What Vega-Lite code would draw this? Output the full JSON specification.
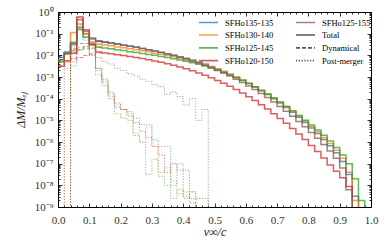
{
"$schema": "https://vega.github.io/schema/vega-lite/v6.json",
"width": 313, "height": 195,
"autosize": {"type": "none"},
"padding": {"left": 58, "top": 12, "right": 19, "bottom": 37},
"datasets": {
"h": [
{"m":"SFHo135-135","v":0,"T":7.94e-3,"D":7.94e-3},
{"m":"SFHo135-135","v":0.02,"T":1.41e-2,"D":1.26e-2,"P":1e-12},
{"m":"SFHo135-135","v":0.04,"T":3.55e-2,"D":2.0e-2,"P":3.16e-3},
{"m":"SFHo135-135","v":0.06,"T":0.2,"D":3.55e-2,"P":0.158},
{"m":"SFHo135-135","v":0.08,"T":0.1,"D":3.55e-2,"P":6.31e-2},
{"m":"SFHo135-135","v":0.1,"T":5.62e-2,"D":3.8e-2,"P":1.26e-2},
{"m":"SFHo135-135","v":0.12,"T":4.47e-2,"D":4.27e-2,"P":2.51e-3},
{"m":"SFHo135-135","v":0.14,"T":4.07e-2,"D":4.07e-2,"P":6.31e-4},
{"m":"SFHo135-135","v":0.16,"T":3.63e-2,"P":1.58e-4},
{"m":"SFHo135-135","v":0.18,"T":3.24e-2,"P":3.98e-5},
{"m":"SFHo135-135","v":0.2,"T":2.95e-2,"P":3.16e-5},
{"m":"SFHo135-135","v":0.22,"T":2.63e-2,"P":2.51e-5},
{"m":"SFHo135-135","v":0.24,"T":2.34e-2,"P":1.26e-5},
{"m":"SFHo135-135","v":0.26,"T":2.09e-2,"P":6.31e-6},
{"m":"SFHo135-135","v":0.28,"T":1.82e-2,"P":6.31e-6},
{"m":"SFHo135-135","v":0.3,"T":1.58e-2,"P":1.26e-6},
{"m":"SFHo135-135","v":0.32,"T":1.38e-2,"P":6.31e-7},
{"m":"SFHo135-135","v":0.34,"T":1.17e-2,"P":6.31e-7},
{"m":"SFHo135-135","v":0.36,"T":1.0e-2,"P":1e-8},
{"m":"SFHo135-135","v":0.38,"T":8.51e-3,"P":1e-7},
{"m":"SFHo135-135","v":0.4,"T":7.24e-3,"P":3.16e-9},
{"m":"SFHo135-135","v":0.42,"T":6.03e-3,"P":1.58e-9},
{"m":"SFHo135-135","v":0.44,"T":4.9e-3,"P":1e-12},
{"m":"SFHo135-135","v":0.46,"T":3.98e-3},
{"m":"SFHo135-135","v":0.48,"T":3.09e-3},
{"m":"SFHo135-135","v":0.5,"T":2.34e-3},
{"m":"SFHo135-135","v":0.52,"T":1.78e-3},
{"m":"SFHo135-135","v":0.54,"T":1.32e-3},
{"m":"SFHo135-135","v":0.56,"T":9.77e-4},
{"m":"SFHo135-135","v":0.58,"T":7.08e-4},
{"m":"SFHo135-135","v":0.6,"T":5.01e-4},
{"m":"SFHo135-135","v":0.62,"T":3.47e-4},
{"m":"SFHo135-135","v":0.64,"T":2.34e-4},
{"m":"SFHo135-135","v":0.66,"T":1.55e-4},
{"m":"SFHo135-135","v":0.68,"T":1.0e-4},
{"m":"SFHo135-135","v":0.7,"T":6.31e-5},
{"m":"SFHo135-135","v":0.72,"T":3.89e-5},
{"m":"SFHo135-135","v":0.74,"T":2.34e-5},
{"m":"SFHo135-135","v":0.76,"T":1.38e-5},
{"m":"SFHo135-135","v":0.78,"T":7.94e-6},
{"m":"SFHo135-135","v":0.8,"T":4.47e-6},
{"m":"SFHo135-135","v":0.82,"T":2.45e-6},
{"m":"SFHo135-135","v":0.84,"T":1.32e-6},
{"m":"SFHo135-135","v":0.86,"T":6.76e-7},
{"m":"SFHo135-135","v":0.88,"T":3.16e-7},
{"m":"SFHo135-135","v":0.9,"T":1.26e-7},
{"m":"SFHo135-135","v":0.92,"T":3.16e-8},
{"m":"SFHo135-135","v":0.94,"T":3.16e-9},
{"m":"SFHo135-135","v":0.96,"T":1e-12},

{"m":"SFHo130-140","v":0,"T":6.31e-3,"D":6.31e-3,"P":1e-12},
{"m":"SFHo130-140","v":0.02,"T":1.26e-2,"D":1.12e-2,"P":1e-4},
{"m":"SFHo130-140","v":0.04,"T":0.112,"D":1.78e-2,"P":8.91e-2},
{"m":"SFHo130-140","v":0.06,"T":0.282,"D":2.24e-2,"P":0.251},
{"m":"SFHo130-140","v":0.08,"T":0.1,"D":2.51e-2,"P":7.08e-2},
{"m":"SFHo130-140","v":0.1,"T":4.17e-2,"D":2.82e-2,"P":1.0e-2},
{"m":"SFHo130-140","v":0.12,"T":3.31e-2,"D":3.09e-2,"P":2.0e-3},
{"m":"SFHo130-140","v":0.14,"T":3.02e-2,"D":3.02e-2,"P":5.01e-4},
{"m":"SFHo130-140","v":0.16,"T":2.75e-2,"P":1.26e-4},
{"m":"SFHo130-140","v":0.18,"T":2.45e-2,"P":5.01e-5},
{"m":"SFHo130-140","v":0.2,"T":2.24e-2,"P":3.16e-5},
{"m":"SFHo130-140","v":0.22,"T":2.0e-2,"P":2.0e-5},
{"m":"SFHo130-140","v":0.24,"T":1.82e-2,"P":2.51e-6},
{"m":"SFHo130-140","v":0.26,"T":1.62e-2,"P":1e-6},
{"m":"SFHo130-140","v":0.28,"T":1.45e-2,"P":5.01e-6},
{"m":"SFHo130-140","v":0.3,"T":1.26e-2,"P":6.31e-7},
{"m":"SFHo130-140","v":0.32,"T":1.12e-2,"P":3.98e-8},
{"m":"SFHo130-140","v":0.34,"T":9.77e-3,"P":6.31e-8},
{"m":"SFHo130-140","v":0.36,"T":8.51e-3,"P":1.58e-8},
{"m":"SFHo130-140","v":0.38,"T":7.24e-3,"P":3.98e-9},
{"m":"SFHo130-140","v":0.4,"T":6.17e-3,"P":5.01e-9},
{"m":"SFHo130-140","v":0.42,"T":5.25e-3,"P":5.01e-9},
{"m":"SFHo130-140","v":0.44,"T":4.37e-3,"P":1e-12},
{"m":"SFHo130-140","v":0.46,"T":3.55e-3},
{"m":"SFHo130-140","v":0.48,"T":2.88e-3},
{"m":"SFHo130-140","v":0.5,"T":2.29e-3},
{"m":"SFHo130-140","v":0.52,"T":1.78e-3},
{"m":"SFHo130-140","v":0.54,"T":1.35e-3},
{"m":"SFHo130-140","v":0.56,"T":1.0e-3},
{"m":"SFHo130-140","v":0.58,"T":7.24e-4},
{"m":"SFHo130-140","v":0.6,"T":5.13e-4},
{"m":"SFHo130-140","v":0.62,"T":3.55e-4},
{"m":"SFHo130-140","v":0.64,"T":2.4e-4},
{"m":"SFHo130-140","v":0.66,"T":1.58e-4},
{"m":"SFHo130-140","v":0.68,"T":1.02e-4},
{"m":"SFHo130-140","v":0.7,"T":6.61e-5},
{"m":"SFHo130-140","v":0.72,"T":4.17e-5},
{"m":"SFHo130-140","v":0.74,"T":2.57e-5},
{"m":"SFHo130-140","v":0.76,"T":1.55e-5},
{"m":"SFHo130-140","v":0.78,"T":9.12e-6},
{"m":"SFHo130-140","v":0.8,"T":5.25e-6},
{"m":"SFHo130-140","v":0.82,"T":2.95e-6},
{"m":"SFHo130-140","v":0.84,"T":1.62e-6},
{"m":"SFHo130-140","v":0.86,"T":8.51e-7},
{"m":"SFHo130-140","v":0.88,"T":4.17e-7},
{"m":"SFHo130-140","v":0.9,"T":1.78e-7},
{"m":"SFHo130-140","v":0.92,"T":3.98e-8},
{"m":"SFHo130-140","v":0.94,"T":2.0e-9},
{"m":"SFHo130-140","v":0.96,"T":1e-12},

{"m":"SFHo125-145","v":0,"T":5.01e-3,"D":5.01e-3},
{"m":"SFHo125-145","v":0.02,"T":1.26e-2,"D":1.12e-2,"P":1e-12},
{"m":"SFHo125-145","v":0.04,"T":3.98e-2,"D":1.58e-2,"P":2.51e-2},
{"m":"SFHo125-145","v":0.06,"T":0.158,"D":1.78e-2,"P":0.141},
{"m":"SFHo125-145","v":0.08,"T":7.08e-2,"D":2.0e-2,"P":5.01e-2},
{"m":"SFHo125-145","v":0.1,"T":3.16e-2,"D":2.19e-2,"P":1.0e-2},
{"m":"SFHo125-145","v":0.12,"T":2.4e-2,"D":2.29e-2,"P":1.26e-3},
{"m":"SFHo125-145","v":0.14,"T":2.19e-2,"D":2.19e-2,"P":3.98e-4},
{"m":"SFHo125-145","v":0.16,"T":2.0e-2,"P":1.0e-4},
{"m":"SFHo125-145","v":0.18,"T":1.82e-2,"P":2.0e-5},
{"m":"SFHo125-145","v":0.2,"T":1.66e-2,"P":1.26e-5},
{"m":"SFHo125-145","v":0.22,"T":1.48e-2,"P":1.0e-5},
{"m":"SFHo125-145","v":0.24,"T":1.35e-2,"P":2.0e-6},
{"m":"SFHo125-145","v":0.26,"T":1.23e-2,"P":1e-6},
{"m":"SFHo125-145","v":0.28,"T":1.1e-2,"P":3.16e-8},
{"m":"SFHo125-145","v":0.3,"T":1.0e-2,"P":1.58e-7},
{"m":"SFHo125-145","v":0.32,"T":8.91e-3,"P":2.51e-8},
{"m":"SFHo125-145","v":0.34,"T":7.94e-3,"P":1e-8},
{"m":"SFHo125-145","v":0.36,"T":6.92e-3,"P":2.51e-9},
{"m":"SFHo125-145","v":0.38,"T":6.17e-3,"P":6.31e-9},
{"m":"SFHo125-145","v":0.4,"T":5.37e-3,"P":2.51e-9},
{"m":"SFHo125-145","v":0.42,"T":4.57e-3,"P":5.01e-9},
{"m":"SFHo125-145","v":0.44,"T":3.89e-3,"P":1e-12},
{"m":"SFHo125-145","v":0.46,"T":3.24e-3},
{"m":"SFHo125-145","v":0.48,"T":2.63e-3},
{"m":"SFHo125-145","v":0.5,"T":2.0e-3},
{"m":"SFHo125-145","v":0.52,"T":1.58e-3},
{"m":"SFHo125-145","v":0.54,"T":1.23e-3},
{"m":"SFHo125-145","v":0.56,"T":9.33e-4},
{"m":"SFHo125-145","v":0.58,"T":6.92e-4},
{"m":"SFHo125-145","v":0.6,"T":5.01e-4},
{"m":"SFHo125-145","v":0.62,"T":3.55e-4},
{"m":"SFHo125-145","v":0.64,"T":2.45e-4},
{"m":"SFHo125-145","v":0.66,"T":1.66e-4},
{"m":"SFHo125-145","v":0.68,"T":1.1e-4},
{"m":"SFHo125-145","v":0.7,"T":7.08e-5},
{"m":"SFHo125-145","v":0.72,"T":4.47e-5},
{"m":"SFHo125-145","v":0.74,"T":2.75e-5},
{"m":"SFHo125-145","v":0.76,"T":1.66e-5},
{"m":"SFHo125-145","v":0.78,"T":1.0e-5},
{"m":"SFHo125-145","v":0.8,"T":6.03e-6},
{"m":"SFHo125-145","v":0.82,"T":3.55e-6},
{"m":"SFHo125-145","v":0.84,"T":2.04e-6},
{"m":"SFHo125-145","v":0.86,"T":1.12e-6},
{"m":"SFHo125-145","v":0.88,"T":5.62e-7},
{"m":"SFHo125-145","v":0.9,"T":2.51e-7},
{"m":"SFHo125-145","v":0.92,"T":1.0e-7},
{"m":"SFHo125-145","v":0.94,"T":2.0e-8},
{"m":"SFHo125-145","v":0.96,"T":2.0e-9},
{"m":"SFHo125-145","v":0.98,"T":1e-12},

{"m":"SFHo120-150","v":0,"T":3.16e-3,"D":3.16e-3},
{"m":"SFHo120-150","v":0.02,"T":5.62e-3,"D":5.01e-3,"P":1e-12},
{"m":"SFHo120-150","v":0.04,"T":1.26e-2,"D":7.08e-3,"P":5.01e-3},
{"m":"SFHo120-150","v":0.06,"T":0.589,"D":7.94e-3,"P":0.575},
{"m":"SFHo120-150","v":0.08,"T":0.151,"D":1.0e-2,"P":0.141},
{"m":"SFHo120-150","v":0.1,"T":3.16e-2,"D":1.12e-2,"P":2.0e-2},
{"m":"SFHo120-150","v":0.12,"T":1.41e-2,"D":1.29e-2,"P":2.51e-3},
{"m":"SFHo120-150","v":0.14,"T":1.29e-2,"D":1.29e-2,"P":7.94e-4},
{"m":"SFHo120-150","v":0.16,"T":1.17e-2,"P":2.0e-4},
{"m":"SFHo120-150","v":0.18,"T":1.07e-2,"P":6.31e-5},
{"m":"SFHo120-150","v":0.2,"T":9.77e-3,"P":3.16e-5},
{"m":"SFHo120-150","v":0.22,"T":8.91e-3,"P":1.58e-5},
{"m":"SFHo120-150","v":0.24,"T":7.94e-3,"P":7.94e-6},
{"m":"SFHo120-150","v":0.26,"T":7.08e-3,"P":3.16e-6},
{"m":"SFHo120-150","v":0.28,"T":6.31e-3,"P":1.58e-6},
{"m":"SFHo120-150","v":0.3,"T":5.5e-3,"P":6.31e-7},
{"m":"SFHo120-150","v":0.32,"T":4.79e-3,"P":2.51e-7},
{"m":"SFHo120-150","v":0.34,"T":4.07e-3,"P":3.98e-8},
{"m":"SFHo120-150","v":0.36,"T":3.47e-3,"P":1e-7},
{"m":"SFHo120-150","v":0.38,"T":2.88e-3,"P":5.01e-8},
{"m":"SFHo120-150","v":0.4,"T":2.4e-3,"P":5.01e-8},
{"m":"SFHo120-150","v":0.42,"T":1.95e-3,"P":2.51e-9},
{"m":"SFHo120-150","v":0.44,"T":1.55e-3,"P":2.51e-9},
{"m":"SFHo120-150","v":0.46,"T":1.2e-3,"P":2.51e-9},
{"m":"SFHo120-150","v":0.48,"T":9.12e-4,"P":1e-12},
{"m":"SFHo120-150","v":0.5,"T":6.92e-4},
{"m":"SFHo120-150","v":0.52,"T":5.13e-4},
{"m":"SFHo120-150","v":0.54,"T":3.72e-4},
{"m":"SFHo120-150","v":0.56,"T":2.63e-4},
{"m":"SFHo120-150","v":0.58,"T":1.82e-4},
{"m":"SFHo120-150","v":0.6,"T":1.23e-4},
{"m":"SFHo120-150","v":0.62,"T":8.13e-5},
{"m":"SFHo120-150","v":0.64,"T":5.25e-5},
{"m":"SFHo120-150","v":0.66,"T":3.31e-5},
{"m":"SFHo120-150","v":0.68,"T":2.04e-5},
{"m":"SFHo120-150","v":0.7,"T":1.23e-5},
{"m":"SFHo120-150","v":0.72,"T":7.24e-6},
{"m":"SFHo120-150","v":0.74,"T":4.17e-6},
{"m":"SFHo120-150","v":0.76,"T":2.34e-6},
{"m":"SFHo120-150","v":0.78,"T":1.29e-6},
{"m":"SFHo120-150","v":0.8,"T":6.92e-7},
{"m":"SFHo120-150","v":0.82,"T":3.63e-7},
{"m":"SFHo120-150","v":0.84,"T":1.82e-7},
{"m":"SFHo120-150","v":0.86,"T":8.71e-8},
{"m":"SFHo120-150","v":0.88,"T":4.47e-8},
{"m":"SFHo120-150","v":0.9,"T":2.24e-8},
{"m":"SFHo120-150","v":0.92,"T":8.91e-9},
{"m":"SFHo120-150","v":0.94,"T":1e-12},

{"m":"SFHo125-155","v":0,"T":6.31e-3,"D":6.31e-3,"P":1e-12},
{"m":"SFHo125-155","v":0.02,"T":1.26e-2,"D":1.12e-2,"P":2.51e-3},
{"m":"SFHo125-155","v":0.04,"T":3.16e-2,"D":1.41e-2,"P":1.78e-2},
{"m":"SFHo125-155","v":0.06,"T":0.447,"D":1.78e-2,"P":0.417},
{"m":"SFHo125-155","v":0.08,"T":0.126,"D":2.51e-2,"P":0.1},
{"m":"SFHo125-155","v":0.1,"T":6.31e-2,"D":3.55e-2,"P":2.82e-2},
{"m":"SFHo125-155","v":0.12,"T":4.68e-2,"D":4.27e-2,"P":7.94e-3},
{"m":"SFHo125-155","v":0.14,"T":4.27e-2,"D":4.07e-2,"P":5.01e-3},
{"m":"SFHo125-155","v":0.16,"T":3.8e-2,"D":3.8e-2,"P":3.98e-3},
{"m":"SFHo125-155","v":0.18,"T":3.39e-2,"P":2.51e-3},
{"m":"SFHo125-155","v":0.2,"T":3.02e-2,"P":2.0e-3},
{"m":"SFHo125-155","v":0.22,"T":2.69e-2,"P":1.41e-3},
{"m":"SFHo125-155","v":0.24,"T":2.4e-2,"P":1.12e-3},
{"m":"SFHo125-155","v":0.26,"T":2.09e-2,"P":7.94e-4},
{"m":"SFHo125-155","v":0.28,"T":1.82e-2,"P":6.31e-4},
{"m":"SFHo125-155","v":0.3,"T":1.58e-2,"P":4.47e-4},
{"m":"SFHo125-155","v":0.32,"T":1.35e-2,"P":3.55e-4},
{"m":"SFHo125-155","v":0.34,"T":1.15e-2,"P":1.58e-4},
{"m":"SFHo125-155","v":0.36,"T":9.77e-3,"P":2.0e-4},
{"m":"SFHo125-155","v":0.38,"T":8.13e-3,"P":1.26e-4},
{"m":"SFHo125-155","v":0.4,"T":6.76e-3,"P":5.01e-5},
{"m":"SFHo125-155","v":0.42,"T":5.5e-3,"P":1.0e-4},
{"m":"SFHo125-155","v":0.44,"T":4.37e-3,"P":1.0e-5},
{"m":"SFHo125-155","v":0.46,"T":3.47e-3,"P":3.16e-5},
{"m":"SFHo125-155","v":0.48,"T":2.69e-3,"P":1e-12},
{"m":"SFHo125-155","v":0.5,"T":2.04e-3},
{"m":"SFHo125-155","v":0.52,"T":1.51e-3},
{"m":"SFHo125-155","v":0.54,"T":1.1e-3},
{"m":"SFHo125-155","v":0.56,"T":7.94e-4},
{"m":"SFHo125-155","v":0.58,"T":5.62e-4},
{"m":"SFHo125-155","v":0.6,"T":3.89e-4},
{"m":"SFHo125-155","v":0.62,"T":2.63e-4},
{"m":"SFHo125-155","v":0.64,"T":1.74e-4},
{"m":"SFHo125-155","v":0.66,"T":1.12e-4},
{"m":"SFHo125-155","v":0.68,"T":7.08e-5},
{"m":"SFHo125-155","v":0.7,"T":4.37e-5},
{"m":"SFHo125-155","v":0.72,"T":2.63e-5},
{"m":"SFHo125-155","v":0.74,"T":1.55e-5},
{"m":"SFHo125-155","v":0.76,"T":8.91e-6},
{"m":"SFHo125-155","v":0.78,"T":5.01e-6},
{"m":"SFHo125-155","v":0.8,"T":2.75e-6},
{"m":"SFHo125-155","v":0.82,"T":1.48e-6},
{"m":"SFHo125-155","v":0.84,"T":7.76e-7},
{"m":"SFHo125-155","v":0.86,"T":3.89e-7},
{"m":"SFHo125-155","v":0.88,"T":1.78e-7},
{"m":"SFHo125-155","v":0.9,"T":6.31e-8},
{"m":"SFHo125-155","v":0.92,"T":6.31e-9},
{"m":"SFHo125-155","v":0.94,"T":1e-12}
],
"keys": [
{"key":"SFHo135-135"},{"key":"SFHo130-140"},{"key":"SFHo125-145"},{"key":"SFHo120-150"},
{"key":"SFHo125-155"},{"key":"Total"},{"key":"Dynamical"},{"key":"Post-merger"}
]
},
"layer": [
{
"data": {"name": "h"},
"mark": {"type": "line", "interpolate": "step-after", "clip": true, "strokeWidth": 1, "strokeDash": [1.2, 1.6], "opacity": 0.6},
"encoding": {
"x": {"field": "v", "type": "quantitative", "scale": {"domain": [0, 1], "nice": false, "zero": false}, "axis": null},
"y": {"field": "P", "type": "quantitative", "scale": {"type": "log", "domain": [1e-9, 1], "nice": false}, "axis": null},
"stroke": {"field": "m", "type": "nominal", "legend": null,
"scale": {"domain": ["SFHo135-135","SFHo130-140","SFHo125-145","SFHo120-150","SFHo125-155"], "range": ["#1f77b4","#ff7f0e","#2ca02c","#d62728","#8c564b"]}}
}
},
{
"data": {"name": "h"},
"mark": {"type": "line", "interpolate": "step-after", "clip": true, "strokeWidth": 1, "strokeDash": [4, 2], "opacity": 0.6},
"encoding": {
"x": {"field": "v", "type": "quantitative", "axis": {"orient": "top", "labels": false, "title": null,
"values": [0,0.02,0.04,0.06,0.08,0.1,0.12,0.14,0.16,0.18,0.2,0.22,0.24,0.26,0.28,0.3,0.32,0.34,0.36,0.38,0.4,0.42,0.44,0.46,0.48,0.5,0.52,0.54,0.56,0.58,0.6,0.62,0.64,0.66,0.68,0.7,0.72,0.74,0.76,0.78,0.8,0.82,0.84,0.86,0.88,0.9,0.92,0.94,0.96,0.98,1],
"tickSize": -4, "tickDash": {"condition": {"test": "abs(datum.value*10 - round(datum.value*10)) < 1e-6", "value": [4, 0]}, "value": [2, 20]}}},
"y": {"field": "D", "type": "quantitative", "axis": {"orient": "right", "labels": false, "title": null,
"values": [1,0.1,0.01,0.001,1e-4,1e-5,1e-6,1e-7,1e-8,1e-9,2e-9,3e-9,4e-9,5e-9,6e-9,7e-9,8e-9,9e-9,2e-8,3e-8,4e-8,5e-8,6e-8,7e-8,8e-8,9e-8,2e-7,3e-7,4e-7,5e-7,6e-7,7e-7,8e-7,9e-7,2e-6,3e-6,4e-6,5e-6,6e-6,7e-6,8e-6,9e-6,2e-5,3e-5,4e-5,5e-5,6e-5,7e-5,8e-5,9e-5,2e-4,3e-4,4e-4,5e-4,6e-4,7e-4,8e-4,9e-4,0.002,0.003,0.004,0.005,0.006,0.007,0.008,0.009,0.02,0.03,0.04,0.05,0.06,0.07,0.08,0.09,0.2,0.3,0.4,0.5,0.6,0.7,0.8,0.9],
"tickSize": -4, "tickDash": {"condition": {"test": "abs(log(datum.value)/LN10 - round(log(datum.value)/LN10)) < 1e-3", "value": [4, 0]}, "value": [2, 20]}}},
"stroke": {"field": "m", "type": "nominal", "legend": null,
"scale": {"domain": ["SFHo135-135","SFHo130-140","SFHo125-145","SFHo120-150","SFHo125-155"], "range": ["#1f77b4","#ff7f0e","#2ca02c","#d62728","#8c564b"]}}
}
},
{
"data": {"name": "h"},
"mark": {"type": "line", "interpolate": "step-after", "clip": true, "strokeWidth": 1.5, "opacity": 0.75},
"encoding": {
"x": {"field": "v", "type": "quantitative", "axis": {"orient": "bottom", "title": "v\u221e/c", "titleFontStyle": "italic", "titleFontSize": 12, "titleX": 156.5, "titleY": 19, "titleBaseline": "top",
"values": [0,0.02,0.04,0.06,0.08,0.1,0.12,0.14,0.16,0.18,0.2,0.22,0.24,0.26,0.28,0.3,0.32,0.34,0.36,0.38,0.4,0.42,0.44,0.46,0.48,0.5,0.52,0.54,0.56,0.58,0.6,0.62,0.64,0.66,0.68,0.7,0.72,0.74,0.76,0.78,0.8,0.82,0.84,0.86,0.88,0.9,0.92,0.94,0.96,0.98,1],
"labelExpr": "abs(datum.value*10 - round(datum.value*10)) < 1e-6 ? format(datum.value, '.1f') : ''",
"labelOverlap": false, "labelFlush": false, "labelPadding": 11,
"tickSize": -4, "tickDash": {"condition": {"test": "abs(datum.value*10 - round(datum.value*10)) < 1e-6", "value": [4, 0]}, "value": [2, 20]}}},
"y": {"field": "T", "type": "quantitative", "axis": {"orient": "left", "title": "\u0394M/M\u2091\u2c7c", "titleFontStyle": "italic", "titleFontSize": 12, "titleX": -31, "titleY": 97.5, "titleBaseline": "bottom", "titleAngle": -90,
"values": [1,0.1,0.01,0.001,1e-4,1e-5,1e-6,1e-7,1e-8,1e-9,2e-9,3e-9,4e-9,5e-9,6e-9,7e-9,8e-9,9e-9,2e-8,3e-8,4e-8,5e-8,6e-8,7e-8,8e-8,9e-8,2e-7,3e-7,4e-7,5e-7,6e-7,7e-7,8e-7,9e-7,2e-6,3e-6,4e-6,5e-6,6e-6,7e-6,8e-6,9e-6,2e-5,3e-5,4e-5,5e-5,6e-5,7e-5,8e-5,9e-5,2e-4,3e-4,4e-4,5e-4,6e-4,7e-4,8e-4,9e-4,0.002,0.003,0.004,0.005,0.006,0.007,0.008,0.009,0.02,0.03,0.04,0.05,0.06,0.07,0.08,0.09,0.2,0.3,0.4,0.5,0.6,0.7,0.8,0.9],
"labelExpr": "abs(log(datum.value)/LN10 - round(log(datum.value)/LN10)) < 1e-3 ? ['10\u2070','10\u207b\u00b9','10\u207b\u00b2','10\u207b\u00b3','10\u207b\u2074','10\u207b\u2075','10\u207b\u2076','10\u207b\u2077','10\u207b\u2078','10\u207b\u2079'][-round(log(datum.value)/LN10)] : ''",
"labelOverlap": false, "labelFlush": false, "labelPadding": 9,
"tickSize": -4, "tickDash": {"condition": {"test": "abs(log(datum.value)/LN10 - round(log(datum.value)/LN10)) < 1e-3", "value": [4, 0]}, "value": [2, 20]}}},
"stroke": {"field": "m", "type": "nominal", "legend": null,
"scale": {"domain": ["SFHo135-135","SFHo130-140","SFHo125-145","SFHo120-150","SFHo125-155"], "range": ["#1f77b4","#ff7f0e","#2ca02c","#d62728","#8c564b"]}}
}
},
{
"data": {"name": "keys"},
"mark": {"type": "line", "strokeWidth": 1.5},
"encoding": {
"color": {"field": "key", "type": "nominal",
"scale": {"domain": ["SFHo135-135","SFHo130-140","SFHo125-145","SFHo120-150","SFHo125-155","Total","Dynamical","Post-merger"],
"range": ["#1f77b4","#ff7f0e","#2ca02c","#d62728","#8c564b","#222222","#222222","#222222"]},
"legend": {"title": null, "orient": "none", "legendX": 140, "legendY": 5, "columns": 2, "symbolType": "stroke", "symbolSize": 361, "symbolStrokeWidth": 1.6, "symbolOpacity": 0.75, "clipHeight": 10.5, "rowPadding": 1.8, "columnPadding": 21, "labelOffset": 6, "labelFontSize": 8.5, "labelFont": "Liberation Serif", "padding": 0}},
"strokeDash": {"field": "key", "type": "nominal",
"scale": {"domain": ["SFHo135-135","SFHo130-140","SFHo125-145","SFHo120-150","SFHo125-155","Total","Dynamical","Post-merger"],
"range": [[1,0],[1,0],[1,0],[1,0],[1,0],[1,0],[4,2],[1.2,1.6]]},
"legend": {"title": null, "orient": "none", "legendX": 140, "legendY": 5, "columns": 2, "symbolType": "stroke", "symbolSize": 361, "symbolStrokeWidth": 1.6, "symbolOpacity": 0.75, "clipHeight": 10.5, "rowPadding": 1.8, "columnPadding": 21, "labelOffset": 6, "labelFontSize": 8.5, "labelFont": "Liberation Serif", "padding": 0}}
}
}
],
"resolve": {"axis": {"x": "independent", "y": "independent"}},
"config": {
"view": {"stroke": "black", "strokeWidth": 1},
"font": "Liberation Serif",
"axis": {"grid": false, "domain": false, "tickColor": "black", "tickWidth": 0.8, "labelFont": "Liberation Serif", "labelFontSize": 11, "labelColor": "#333333", "titleFont": "Liberation Serif", "titleFontWeight": "normal", "titleColor": "#222222"}
}
}
